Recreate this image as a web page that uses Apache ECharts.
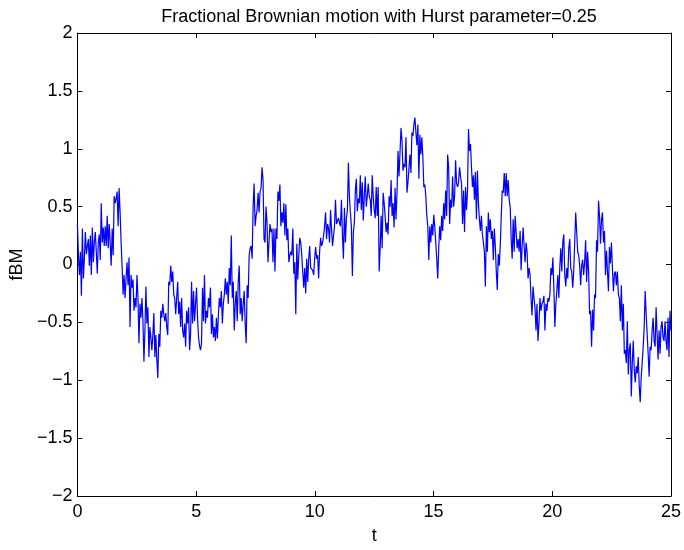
<!DOCTYPE html>
<html>
<head>
<meta charset="utf-8">
<script src="https://cdn.jsdelivr.net/npm/echarts@6/dist/echarts.min.js"></script>
<style>
  html, body { margin: 0; padding: 0; background: #fff; }
  #chart { width: 684px; height: 550px; }
</style>
</head>
<body>
<div id="chart"></div>
<script>
// fBM samples, left to right, evenly spaced over t = 0..25
const fbmPart1 = [0.35, 0.08, -0.09, 0.11, -0.27, 0.31, -0.12, 0.05, 0.28, 0.09, 0.16, 0.22, -0.01, 0.25, -0.09, 0.32, 0.02, 0.19, 0.28, 0.11,
  -0.08, 0.19, 0.26, 0.04, 0.53, 0.19, 0.32, 0.16, 0.33, 0.16, 0.42, 0.14, 0.35, 0.19, -0.01, 0.31, 0.08, 0.59, 0.53, 0.57,
  0.63, 0.33, 0.66, 0.45, 0.19, -0.01, -0.26, -0.09, -0.29, -0.12, 0.02, -0.18, 0.06, -0.54, -0.09, -0.20, -0.13, -0.40, -0.29, -0.37,
  -0.09, -0.29, -0.68, -0.34, -0.46, -0.29, -0.49, -0.84, -0.57, -0.19, -0.51, -0.37, -0.80, -0.54, -0.63, -0.74, -0.61, -0.42, -0.80, -0.61,
  -0.82, -0.98, -0.60, -0.71, -0.40, -0.46, -0.34, -0.43, -0.49, -0.42, -0.54, -0.61, -0.15, -0.18, -0.01, -0.15, -0.06, -0.26, -0.29, -0.43,
  -0.29, -0.15]
const fbmPart2 = [-0.43, -0.32, -0.54, -0.29, -0.57, -0.63, -0.51, -0.71, -0.40, -0.51, -0.37, -0.74, -0.60, -0.15, -0.51, -0.23, -0.49, -0.34, -0.20, -0.46,
  -0.63, -0.70, -0.74, -0.68, -0.20, -0.49, -0.09, -0.51, -0.40, -0.46, -0.29, -0.37, -0.20, -0.60, -0.43, -0.63, -0.54, -0.66, -0.46, -0.64,
  -0.44, -0.29, -0.37, -0.23, -0.51, -0.34, -0.26, -0.12, -0.26, -0.15, -0.34, -0.03, -0.18, 0.25, -0.29, -0.15, -0.57, -0.34, -0.23, -0.49,
  -0.15, -0.01, -0.43, -0.29, -0.49, -0.34, -0.23, -0.51, -0.68, -0.18, -0.29, 0.08, 0.14, 0.16, 0.05, 0.50, 0.70, 0.33, 0.42, 0.47,
  0.62, 0.45, 0.63, 0.66, 0.84, 0.73, 0.22, 0.19, 0.50, 0.36, 0.02, 0.19, 0.35, 0.28, 0.31, 0.02, 0.31, -0.06, 0.31]
const fbmPart3 = [0.22, 0.63, 0.55, 0.69, 0.33, 0.45, 0.36, 0.53, 0.25, 0.52, 0.21, 0.31, 0.02, 0.08, 0.11, 0.08, 0.31, -0.08, 0.02, -0.43,
  0.18, -0.13, 0.08, 0.23, 0.19, 0.08, -0.06, -0.20, -0.03, -0.25, 0.05, -0.15, 0.05, 0.16, -0.03, -0.02, -0.05, -0.09, 0.05, 0.15,
  0.05, 0.08, -0.12, 0.11, 0.23, 0.16, 0.19, 0.25, 0.33, 0.45, 0.22, 0.35, 0.31, 0.19, 0.47, 0.31, 0.16, 0.16, 0.33, 0.56,
  0.35, 0.36, 0.40, 0.36, 0.33, 0.56, 0.25, 0.05, 0.49, 0.19, 0.40, 0.47, 0.88, 0.59, 0.45, 0.33, -0.10, 0.28, 0.36, 0.64,
  0.74, 0.46, 0.57, 0.53, 0.77, 0.47, 0.71, 0.38, 0.59, 0.76, 0.50, 0.59, 0.70, 0.59, 0.56, 0.42, 0.77, 0.59, 0.47, 0.40, 0.67]
const fbmPart4 = [0.42, 0.67, -0.06, 0.14, 0.42, 0.14, 0.62, 0.53, 0.42, 0.28, 0.36, 0.26, 0.59, 0.50, 0.73, 0.42, 0.53, 0.32, 0.66, 0.39,
  0.63, 0.98, 0.76, 0.97, 1.18, 1.07, 0.81, 0.87, 0.84, 1.10, 0.62, 0.71, 0.70, 0.95, 0.79, 1.14, 1.11, 1.21, 1.27, 1.14,
  1.03, 1.21, 0.74, 1.12, 0.95, 1.10, 0.93, 0.67, 0.69, 0.59, 0.42, 0.33, 0.04, 0.33, 0.19, 0.35, 0.25, 0.43, 0.33, 0.19,
  0.05, -0.12, 0.14, 0.33, 0.21, 0.42, 0.29, 0.53, 0.39, 0.64, 0.42, 0.95, 0.84, 0.35, 0.56, 0.49, 0.76, 0.50, 0.59, 0.90,
  0.70, 0.67, 0.71, 0.84, 0.76, 0.70, 0.35, 0.64, 0.28, 0.67, 0.47, 0.64, 1.17, 0.98, 1.04, 0.84, 0.67, 0.77, 0.56, 0.80, 0.39, 0.81]
const fbmPart5 = [0.53, 0.39, 0.29, 0.42, 0.26, 0.19, 0.11, -0.19, 0.33, 0.11, 0.45, 0.28, 0.39, 0.22, 0.29, 0.04, 0.31, 0.16, -0.06, -0.22,
  0.09, -0.01, 0.16, 0.42, 0.64, 0.62, 0.79, 0.59, 0.79, 0.59, 0.73, 0.56, 0.50, 0.22, 0.05, 0.39, 0.11, 0.42, 0.42, 0.14,
  0.22, 0.11, 0.29, -0.05, 0.16, 0.32, 0.16, 0.02, 0.19, 0.11, -0.12, -0.03, -0.09, -0.29, -0.44, -0.19, -0.29, -0.37, -0.57, -0.34,
  -0.66, -0.51, -0.29, -0.40, -0.34, -0.32, -0.27, -0.57, -0.34, -0.40, -0.29, -0.32, -0.26, -0.03, -0.09, 0.06, -0.20, -0.54, -0.34, -0.23,
  -0.09, -0.29, -0.02, 0.14, -0.06, 0.19, 0.26, -0.09, -0.19, -0.03, -0.12, 0.14, 0.22, -0.03, -0.06, -0.20, -0.06, -0.06, 0.45, 0.28, 0.11, 0.08]
const fbmPart6 = [-0.01, -0.18, -0.01, 0.04, -0.09, 0.02, 0.21, -0.15, 0.11, -0.06, -0.43, -0.40, -0.71, -0.39, -0.57, -0.26, -0.29, 0.21, 0.11, 0.55,
  0.42, 0.18, 0.39, 0.45, 0.19, 0.29, -0.09, 0.12, -0.06, -0.23, 0.15, 0.01, 0.19, -0.03, -0.23, -0.08, -0.06, -0.18, -0.06, -0.26,
  -0.29, -0.49, -0.18, -0.57, -0.34, -0.77, -0.74, -0.85, -0.49, -0.95, -0.74, -0.68, -1.14, -0.85, -0.66, -0.91, -1.02, -0.88, -0.94, -0.80,
  -1.05, -1.19, -0.97, -0.85, -0.71, -0.54, -0.23, -0.43, -0.60, -0.77, -0.97, -0.71, -0.74, -0.57, -0.46, -0.66, -0.71, -0.37, -0.60, -0.82,
  -0.57, -0.77, -0.54, -0.49, -0.63, -0.66, -0.49, -0.66, -0.74, -0.46, -0.80, -0.40, -0.57]
const fbm = [].concat(fbmPart1, fbmPart2, fbmPart3, fbmPart4, fbmPart5, fbmPart6)

const tStart = 0
const tEnd = 25
const xTicks = [0, 5, 10, 15, 20, 25]
const yTicks = [-2, -1.5, -1, -0.5, 0, 0.5, 1, 1.5, 2]

const step = (tEnd - tStart) / (fbm.length - 1)
const points = fbm.map((v, i) => [tStart + i * step, v])

const fmt = (v) => (v < 0 ? '\u2212' + Math.abs(v) : String(v))
const font = 'Liberation Sans, Arial, Helvetica, sans-serif'
const boxLine = { show: true, onZero: false, lineStyle: { color: '#000', width: 1 } }
const inTick = { show: true, inside: true, length: 5, lineStyle: { color: '#000', width: 1 } }

const chart = echarts.init(document.getElementById('chart'), null, { renderer: 'canvas' })
chart.setOption({
    animation: false,
    backgroundColor: '#fff',
    title: {
        text: 'Fractional Brownian motion with Hurst parameter=0.25',
        left: 374,
        textAlign: 'center',
        top: 3,
        textStyle: { fontFamily: font, fontSize: 18, fontWeight: 'normal', color: '#000' }
    },
    grid: { left: 76, right: 12, top: 33, bottom: 46, containLabel: false },
    xAxis: [
        {
            type: 'value', min: tStart, max: tEnd, interval: 5, position: 'bottom',
            name: 't', nameLocation: 'middle', nameGap: 31,
            nameTextStyle: { fontFamily: font, fontSize: 18, color: '#000' },
            axisLine: boxLine, axisTick: inTick, splitLine: { show: false },
            axisLabel: { fontFamily: font, fontSize: 18, color: '#000', margin: 7,
                formatter: (v) => (xTicks.includes(v) ? fmt(v) : '') }
        },
        {
            type: 'value', min: tStart, max: tEnd, interval: 5, position: 'top',
            axisLine: boxLine, axisTick: inTick, splitLine: { show: false }, axisLabel: { show: false }
        }
    ],
    yAxis: [
        {
            type: 'value', min: -2, max: 2, interval: 0.5, position: 'left',
            name: 'fBM', nameLocation: 'middle', nameGap: 50, nameRotate: 90,
            nameTextStyle: { fontFamily: font, fontSize: 18, color: '#000' },
            axisLine: boxLine, axisTick: inTick, splitLine: { show: false },
            axisLabel: { fontFamily: font, fontSize: 18, color: '#000', margin: 5,
                formatter: (v) => (yTicks.includes(v) ? fmt(v) : '') }
        },
        {
            type: 'value', min: -2, max: 2, interval: 0.5, position: 'right',
            axisLine: boxLine, axisTick: inTick, splitLine: { show: false }, axisLabel: { show: false }
        }
    ],
    series: [
        {
            name: 'fBM',
            type: 'line',
            xAxisIndex: 0,
            yAxisIndex: 0,
            data: points,
            showSymbol: false,
            symbol: 'none',
            lineStyle: { color: '#0000ff', width: 1.2 },
            z: 1
        }
    ]
})
</script>
</body>
</html>
